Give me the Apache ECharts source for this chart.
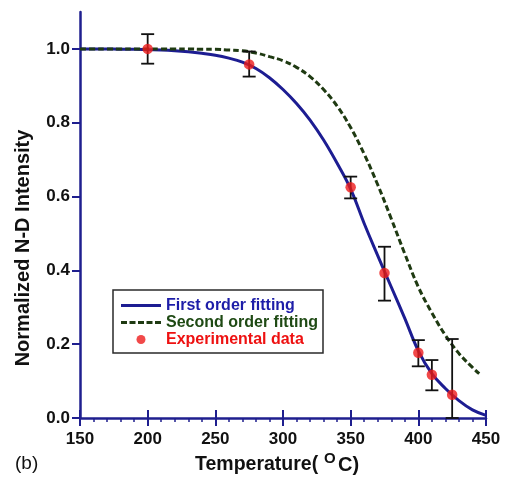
<!DOCTYPE html>
<html>
<head>
<meta charset="utf-8">
<script src="https://cdn.jsdelivr.net/npm/echarts@6/dist/echarts.min.js"></script>
<style>html,body{margin:0;padding:0;background:#fff;}#c{width:505px;height:480px;}</style>
</head>
<body>
<div id="c"></div>
<script>
// ---- data ----
var fitTemps1 = [150,160,170,180,190,200,210,220,230,240,250,260,270,280,290,300,310,320,330,340,350,360,370,380,390,400,410,420,430,440,450];
var firstOrder = [1.0,1.0,1.0,0.999,0.999,0.998,0.997,0.995,0.992,0.988,0.983,0.975,0.964,0.947,0.922,0.89,0.852,0.807,0.753,0.69,0.62,0.527,0.44,0.355,0.27,0.182,0.12,0.08,0.047,0.022,0.007];
var fitTemps2 = [150,160,170,180,190,200,210,220,230,240,250,260,270,280,290,300,310,320,330,340,350,360,370,380,390,400,410,420,430,440,445];
var secondOrder = [1.0,1.0,1.0,1.0,1.0,1.0,1.0,1.0,1.0,0.999,0.999,0.997,0.995,0.989,0.979,0.968,0.95,0.925,0.89,0.845,0.787,0.715,0.632,0.54,0.445,0.355,0.285,0.224,0.175,0.137,0.12];
var expTemps = [200,275,350,375,400,410,425];
var expValues = [1.0,0.958,0.625,0.393,0.177,0.117,0.063];
var errLow = [0.96,0.925,0.595,0.318,0.14,0.075,0.0];
var errHigh = [1.04,0.993,0.654,0.464,0.211,0.157,0.214];
var yTicks = [0,0.2,0.4,0.6,0.8,1.0];

var FONT = '"Liberation Sans", Arial, Helvetica, sans-serif';
var NAVY = '#1f1f8f';
var BLUE = '#1d1d92';
var GREEN = '#1f3a12';
var RED = '#ee1b1b';

function pairs(xs, ys){ return xs.map(function(x,i){ return [x, ys[i]]; }); }

var chart = echarts.init(document.getElementById('c'), null, {renderer:'canvas'});
var option = {
  backgroundColor: '#ffffff',
  animation: false,
  grid: {left: 80, right: 19, top: 12, bottom: 62, containLabel: false},
  legend: {
    orient: 'vertical',
    left: 113, top: 290,
    padding: [7, 5, 5, 8],
    itemGap: 0,
    itemWidth: 40,
    itemHeight: 9,
    itemTextGap: 3,
    backgroundColor: '#ffffff',
    borderColor: '#2a2a2a',
    borderWidth: 1.5,
    borderRadius: 0,
    selectedMode: false,
    textStyle: {fontFamily: FONT, fontSize: 16, fontWeight: 'bold', lineHeight: 17},
    data: [
      {name: 'First order fitting', icon: 'path://M0,0H40V3H0Z', textStyle: {color: '#1d1da8'}},
      {name: 'Second order fitting', icon: 'path://M0,0H6V3H0Z M8.5,0H14.5V3H8.5Z M17,0H23V3H17Z M25.5,0H31.5V3H25.5Z M34,0H40V3H34Z', textStyle: {color: '#1f4a14'}},
      {name: 'Experimental data', icon: 'circle', textStyle: {color: '#ee1111'}}
    ]
  },
  xAxis: [{
    type: 'value', min: 150, max: 450, interval: 50, position: 'bottom',
    axisLine: {onZero: false, lineStyle: {color: NAVY, width: 2.5}},
    axisTick: {show: true, inside: false, length: 8, lineStyle: {color: NAVY, width: 2}},
    minorTick: {show: true, splitNumber: 5, length: 4, lineStyle: {color: NAVY, width: 1.5}},
    axisLabel: {show: true, margin: 13, color: '#111', fontFamily: FONT, fontSize: 17, fontWeight: 'bold'},
    splitLine: {show: false}
  },{
    type: 'value', min: 150, max: 450, interval: 50, position: 'bottom', offset: 0,
    axisLine: {show: false},
    axisTick: {show: true, inside: true, length: 8, lineStyle: {color: NAVY, width: 2}},
    axisLabel: {show: false},
    splitLine: {show: false}
  }],
  yAxis: {
    type: 'value', min: 0, max: 1.1,
    axisLine: {show: true, onZero: false, lineStyle: {color: NAVY, width: 2.5}},
    axisTick: {show: true, inside: false, length: 8, customValues: yTicks, lineStyle: {color: NAVY, width: 2}},
    axisLabel: {show: true, margin: 10, customValues: yTicks, color: '#111', fontFamily: FONT, fontSize: 17, fontWeight: 'bold',
      formatter: function(v){ return Number(v).toFixed(1); }},
    splitLine: {show: false}
  },
  series: [
    {
      name: 'First order fitting', type: 'line', smooth: 0.4, symbol: 'none', showSymbol: false,
      data: pairs(fitTemps1, firstOrder),
      lineStyle: {color: BLUE, width: 3}, itemStyle: {color: BLUE}, z: 2
    },
    {
      name: 'Second order fitting', type: 'line', smooth: 0.4, symbol: 'none', showSymbol: false,
      data: pairs(fitTemps2, secondOrder),
      lineStyle: {color: GREEN, width: 3, type: [6, 3]}, itemStyle: {color: GREEN}, z: 3
    },
    {
      name: 'error', type: 'custom', z: 4,
      data: expTemps.map(function(x,i){ return [x, errLow[i], errHigh[i]]; }),
      renderItem: function(params, api){
        var x = api.value(0);
        var lo = api.coord([x, api.value(1)]);
        var hi = api.coord([x, api.value(2)]);
        var hw = 6.5;
        var st = {stroke: '#111', lineWidth: 1.8};
        return {type: 'group', children: [
          {type: 'line', shape: {x1: lo[0], y1: lo[1], x2: hi[0], y2: hi[1]}, style: st},
          {type: 'line', shape: {x1: hi[0]-hw, y1: hi[1], x2: hi[0]+hw, y2: hi[1]}, style: st},
          {type: 'line', shape: {x1: lo[0]-hw, y1: lo[1], x2: lo[0]+hw, y2: lo[1]}, style: st}
        ]};
      },
      encode: {x: 0, y: [1, 2]}
    },
    {
      name: 'Experimental data', type: 'scatter', symbol: 'circle', symbolSize: 10.5,
      data: pairs(expTemps, expValues),
      itemStyle: {color: RED}, z: 5
    }
  ],
  graphic: [
    {type: 'text', x: 23, y: 248, rotation: Math.PI / 2,
      style: {text: 'Normalized N-D Intensity', fill: '#111', font: 'bold 20px ' + FONT, align: 'center', verticalAlign: 'middle'}},
    {type: 'text', left: 15, top: 454, style: {text: '(b)', fill: '#111', font: '19px ' + FONT}},
    {type: 'text', left: 195, top: 455, style: {text: 'Temperature(', fill: '#111', font: 'bold 19.5px ' + FONT}},
    {type: 'text', left: 324, top: 451, style: {text: 'O', fill: '#111', font: 'bold 15px ' + FONT}},
    {type: 'text', left: 338, top: 455, style: {text: 'C)', fill: '#111', font: 'bold 20px ' + FONT}}
  ]
};
chart.setOption(option);
</script>
</body>
</html>
